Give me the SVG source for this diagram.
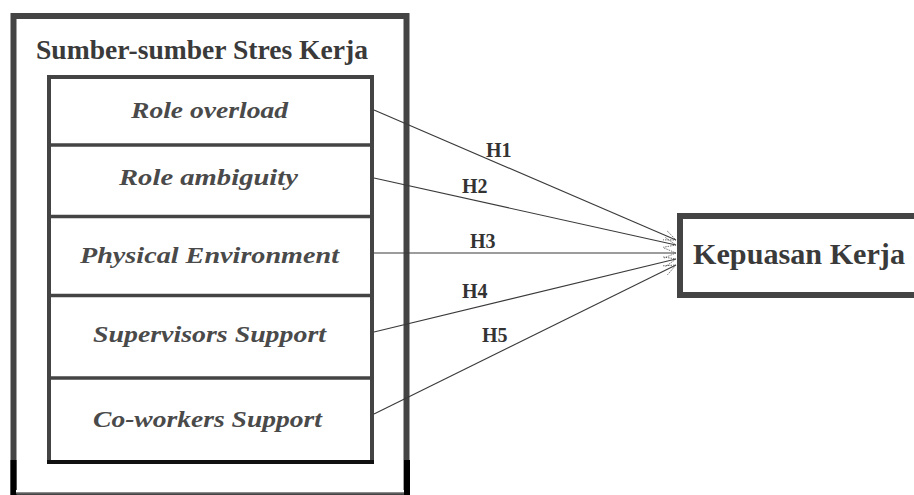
<svg xmlns="http://www.w3.org/2000/svg" width="914" height="495" viewBox="0 0 914 495">
<defs>
<style>
.box{fill:#fff;stroke:#444;}
.it{font-family:"Liberation Serif","Times New Roman",serif;font-style:italic;font-weight:bold;font-size:23px;fill:#4a4a4a;}
.hd{font-family:"Liberation Serif","Times New Roman",serif;font-weight:bold;fill:#3a3a3a;}
.hl{font-family:"Liberation Serif","Times New Roman",serif;font-weight:bold;font-size:20px;fill:#333;}
.cn{stroke:#3a3a3a;stroke-width:1.1;fill:none;marker-end:url(#ah);}
</style>
<marker id="ah" viewBox="0 0 12 12" refX="12" refY="6" markerWidth="12" markerHeight="12" markerUnits="userSpaceOnUse" orient="auto">
<path d="M0,1 L12,6 L0,11" fill="none" stroke="#555" stroke-width="0.8" stroke-dasharray="1.5,1"/>
</marker>
</defs>
<rect width="914" height="495" fill="#fff"/>
<g id="outer">
<rect class="box" x="13.5" y="16" width="393" height="477" stroke-width="6"/>
<line x1="13.5" y1="460" x2="13.5" y2="495" stroke="#000" stroke-width="6"/>
<line x1="407" y1="460" x2="407" y2="495" stroke="#000" stroke-width="6"/>
<rect x="16" y="490" width="388" height="3" fill="#fff"/>
<line x1="16" y1="493" x2="404" y2="493" stroke="#666" stroke-width="1.5"/>
<text class="hd" x="36" y="59" font-size="27" textLength="332" lengthAdjust="spacingAndGlyphs">Sumber-sumber Stres Kerja</text>
</g>
<g id="inner">
<rect class="box" x="49" y="77" width="323" height="385" stroke-width="4"/>
<line x1="47" y1="462" x2="374" y2="462" stroke="#111" stroke-width="4"/>
</g>
<g id="n1"><line x1="49" y1="145" x2="372" y2="145" stroke="#444" stroke-width="3.5"/><text class="it" x="131" y="118" textLength="157" lengthAdjust="spacingAndGlyphs">Role overload</text></g>
<g id="n2"><line x1="49" y1="216.5" x2="372" y2="216.5" stroke="#444" stroke-width="3.5"/><text class="it" x="119" y="185" textLength="179" lengthAdjust="spacingAndGlyphs">Role ambiguity</text></g>
<g id="n3"><line x1="49" y1="295.5" x2="372" y2="295.5" stroke="#444" stroke-width="3.5"/><text class="it" x="80" y="263" textLength="259" lengthAdjust="spacingAndGlyphs">Physical Environment</text></g>
<g id="n4"><line x1="49" y1="378" x2="372" y2="378" stroke="#444" stroke-width="3.5"/><text class="it" x="93" y="342" textLength="233" lengthAdjust="spacingAndGlyphs">Supervisors Support</text></g>
<g id="n5"><text class="it" x="93" y="427" textLength="229" lengthAdjust="spacingAndGlyphs">Co-workers Support</text></g>
<g id="target">
<rect class="box" x="680" y="216" width="240" height="79" stroke-width="6"/>
<text class="hd" x="693" y="264" font-size="29" textLength="212" lengthAdjust="spacingAndGlyphs">Kepuasan Kerja</text>
</g>
<g id="connectors">
<line class="cn" x1="374" y1="110" x2="676" y2="240"/>
<line class="cn" x1="374" y1="178" x2="676" y2="245"/>
<line class="cn" x1="374" y1="253" x2="676" y2="253"/>
<line class="cn" x1="374" y1="332" x2="676" y2="259"/>
<line class="cn" x1="374" y1="414" x2="676" y2="265"/>
<text class="hl" x="486" y="157">H1</text>
<text class="hl" x="462" y="193">H2</text>
<text class="hl" x="470" y="248">H3</text>
<text class="hl" x="462" y="298">H4</text>
<text class="hl" x="482" y="342">H5</text>
</g>
</svg>
